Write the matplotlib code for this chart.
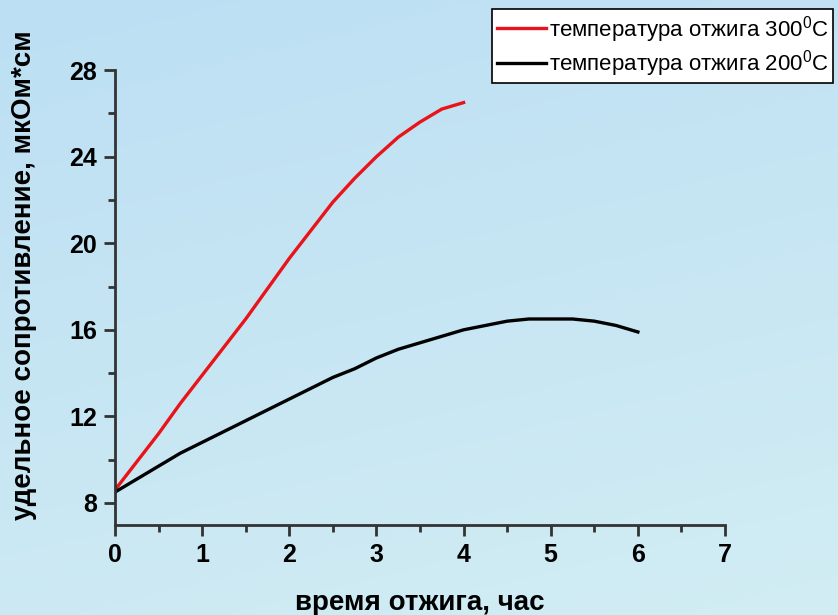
import numpy as np
import matplotlib.pyplot as plt
from matplotlib.ticker import MultipleLocator

plt.rcParams['font.family'] = 'Liberation Sans'

# время отжига, час
time_300 = [0, 0.25, 0.5, 0.75, 1.0, 1.25, 1.5, 1.75, 2.0, 2.25, 2.5, 2.75,
            3.0, 3.25, 3.5, 3.75, 4.0]
rho_300 = [8.6, 9.9, 11.2, 12.6, 13.9, 15.2, 16.5, 17.9, 19.3, 20.6, 21.9, 23.0,
           24.0, 24.9, 25.6, 26.2, 26.5]

time_200 = [0, 0.25, 0.5, 0.75, 1.0, 1.25, 1.5, 1.75, 2.0, 2.25, 2.5, 2.75,
            3.0, 3.25, 3.5, 3.75, 4.0, 4.25, 4.5, 4.75, 5.0, 5.25, 5.5, 5.75, 6.0]
rho_200 = [8.5, 9.1, 9.7, 10.3, 10.8, 11.3, 11.8, 12.3, 12.8, 13.3, 13.8, 14.2,
           14.7, 15.1, 15.4, 15.7, 16.0, 16.2, 16.4, 16.5, 16.5, 16.5, 16.4, 16.2, 15.9]

labels = ['температура отжига 300$^\\mathregular{0}$C',
          'температура отжига 200$^\\mathregular{0}$C']

fig = plt.figure(figsize=(8.38, 6.15), dpi=100)

# light blue background gradient over the whole figure
bg = fig.add_axes([0, 0, 1, 1], zorder=-10)
gy, gx = np.mgrid[0:1:200j, 0:1:200j]
t = np.clip(0.75 * gy + 0.25 * gx, 0, 1)
top = np.array([188, 223, 244]) / 255
bottom = np.array([210, 237, 243]) / 255
img = top[None, None, :] * (1 - t[..., None]) + bottom[None, None, :] * t[..., None]
bg.imshow(img, aspect='auto', extent=[0, 1, 0, 1], origin='upper')
bg.axis('off')

ax = fig.add_axes([0.1372, 0.147, 0.728, 0.739])
ax.patch.set_alpha(0)

ax.plot(time_300, rho_300, color='#e8141a', lw=2.4, label=labels[0])
ax.plot(time_200, rho_200, color='black', lw=2.4, label=labels[1])

ax.set_xlim(0, 7)
ax.set_ylim(7, 28)
ax.xaxis.set_major_locator(MultipleLocator(1))
ax.xaxis.set_minor_locator(MultipleLocator(0.5))
ax.yaxis.set_major_locator(MultipleLocator(4))
ax.yaxis.set_minor_locator(MultipleLocator(2))
ax.set_yticks([8, 12, 16, 20, 24, 28])

for s in ['top', 'right']:
    ax.spines[s].set_visible(False)
for s in ['left', 'bottom']:
    ax.spines[s].set_linewidth(2)
    ax.spines[s].set_color('#333333')

ax.tick_params(which='major', length=8, width=2, color='#333333',
               labelsize=18, pad=5)
ax.tick_params(which='minor', length=5, width=2, color='#333333')
for lab in ax.get_xticklabels() + ax.get_yticklabels():
    lab.set_fontweight('bold')

ax.set_xlabel('время отжига, час', fontsize=20, fontweight='bold', labelpad=17)
ax.set_ylabel('удельное сопротивление, мкОм*см', fontsize=20, fontweight='bold')
ax.yaxis.set_label_coords(-0.127, 0.548)

leg = fig.legend(loc='upper right', bbox_to_anchor=(0.994, 0.985),
                 fontsize=16, frameon=True, fancybox=False, handlelength=2.2,
                 handletextpad=0.15, borderpad=0.2, labelspacing=0.15,
                 borderaxespad=0)
leg.get_frame().set_edgecolor('black')
leg.get_frame().set_linewidth(1.2)
leg.get_frame().set_facecolor('white')
leg.get_frame().set_alpha(1)

fig.savefig('out.png', dpi=100)
